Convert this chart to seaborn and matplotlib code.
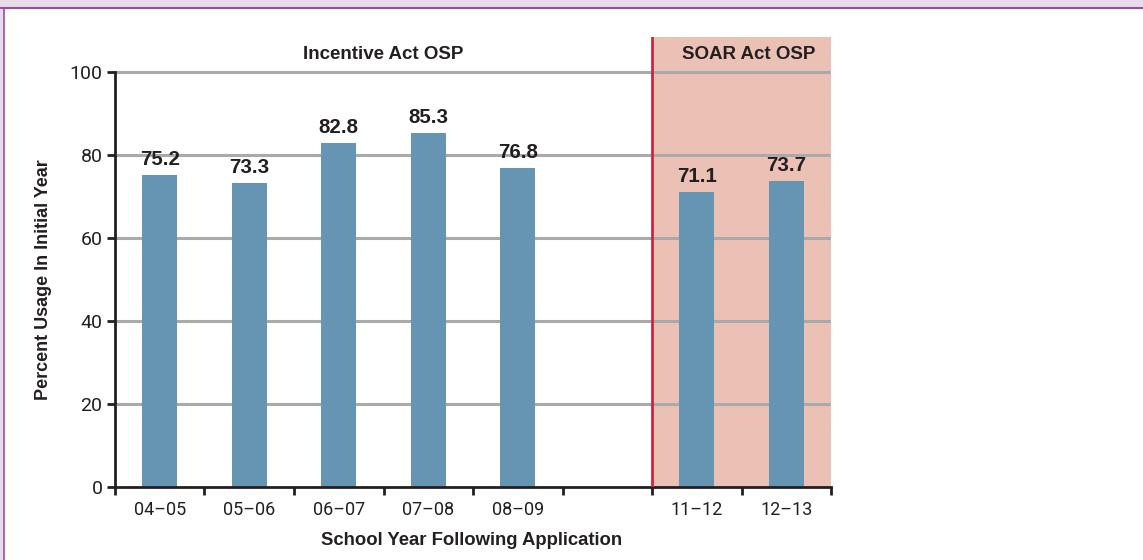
import numpy as np
import pandas as pd
import matplotlib
matplotlib.use("Agg")
import matplotlib.pyplot as plt
from matplotlib.patches import Rectangle
import seaborn as sns

# data
years = ["04–05", "05–06", "06–07", "07–08", "08–09", "11–12", "12–13"]
usage = [75.2, 73.3, 82.8, 85.3, 76.8, 71.1, 73.7]
slots = ["04–05", "05–06", "06–07", "07–08", "08–09", "gap", "11–12", "12–13"]
slot_labels = ["04–05", "05–06", "06–07", "07–08", "08–09", "", "11–12", "12–13"]
programs = ["Incentive Act OSP", "SOAR Act OSP"]

df = pd.DataFrame({"year": years, "usage": usage})

sns.set_style("white")
plt.rcParams["font.family"] = ["Liberation Sans", "DejaVu Sans"]
tick_font = ["Roboto", "DejaVu Sans"]

bar_color = "#6595b2"
shade_color = "#ebc1b6"
red = "#c8283c"
grid_color = "#aaaaaa"
ink = "#231f20"

fig = plt.figure(figsize=(11.43, 5.6), dpi=100)
ax = fig.add_axes([0.1006, 0.1304, 0.6265, 0.8035])

# shaded SOAR region and separator
ax.axvspan(5.5, 7.5, color=shade_color, zorder=0, lw=0)
ax.axvline(5.5, color=red, lw=2, zorder=3)

for y in [20, 40, 60, 80, 100]:
    ax.axhline(y, color=grid_color, lw=2.2, zorder=1)

sns.barplot(data=df, x="year", y="usage", order=slots, color=bar_color,
            width=0.39, saturation=1, linewidth=0, ax=ax, zorder=2)

for i, v in zip([slots.index(y) for y in years], usage):
    ax.text(i, v + 1.4, f"{v}", ha="center", va="bottom", fontsize=14.8,
            fontweight="bold", color=ink)

ax.text(2.5, 104.2, programs[0], ha="center", va="center", fontsize=13.5,
        fontweight="bold", color=ink)
ax.text(6.58, 104.2, programs[1], ha="center", va="center", fontsize=13.5,
        fontweight="bold", color=ink)

ax.set_xlim(-0.5, 7.5)
ax.set_ylim(0, 108.4)

# tick marks on slot boundaries, labels at slot centers
ax.set_xticks(np.arange(-0.5, 8, 1))
ax.set_xticklabels([])
ax.set_xticks(np.arange(8), minor=True)
ax.set_xticklabels(slot_labels, minor=True, fontfamily=tick_font,
                   fontsize=13, color=ink)
ax.tick_params(axis="x", which="major", bottom=True, length=6, width=2,
               color=ink, direction="out")
ax.tick_params(axis="x", which="minor", bottom=True, length=0, pad=10)

ax.set_yticks([0, 20, 40, 60, 80, 100])
ax.set_yticklabels(["0", "20", "40", "60", "80", "100"],
                   fontfamily=tick_font, fontsize=14, color=ink)
ax.tick_params(axis="y", left=True, length=6, width=2, color=ink,
               direction="out", pad=3)

for s in ["top", "right"]:
    ax.spines[s].set_visible(False)
for s in ["left", "bottom"]:
    ax.spines[s].set_color(ink)
    ax.spines[s].set_linewidth(2)
ax.spines["left"].set_bounds(0, 100)

ax.set_xlabel("School Year Following Application", fontsize=13.3, fontweight="bold",
              color=ink)
ax.set_ylabel("Percent Usage In Initial Year", fontsize=13, fontweight="bold",
              color=ink)
ax.xaxis.set_label_coords(0.498, -0.1)
ax.yaxis.set_label_coords(-0.088, 0.46)

# page frame
fig.patches.append(Rectangle((0, 1 - 8 / 560), 1, 8 / 560, transform=fig.transFigure,
                             color="#e6dcea", zorder=0))
fig.patches.append(Rectangle((0, 0), 3 / 1143, 1, transform=fig.transFigure,
                             color="#e6dcea", zorder=0))
fig.lines.append(plt.Line2D([0, 1], [1 - 8 / 560, 1 - 8 / 560], transform=fig.transFigure,
                            color="#9b4f9f", lw=1.5))
fig.lines.append(plt.Line2D([3.5 / 1143, 3.5 / 1143], [0, 1 - 8 / 560], transform=fig.transFigure,
                            color="#9b4f9f", lw=1.2))

fig.savefig("out.png", dpi=100)
